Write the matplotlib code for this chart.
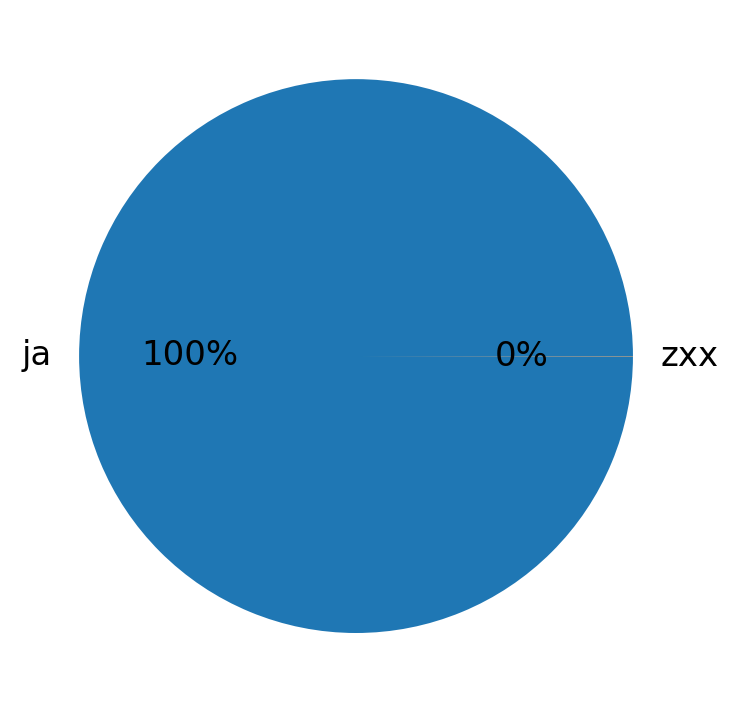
import matplotlib
matplotlib.use("Agg")
import matplotlib.pyplot as plt

labels = ["ja", "zxx"]
values = [6000, 1]

fig = plt.figure(figsize=(7.30, 7.13), dpi=100)
ax = fig.add_axes([0.0134, 0.0151, 0.9486, 0.971])
ax.pie(values, labels=labels, autopct="%1.0f%%", textprops={"fontsize": 24.5})
ax.set_aspect("equal")
fig.savefig("out.png", dpi=100)
